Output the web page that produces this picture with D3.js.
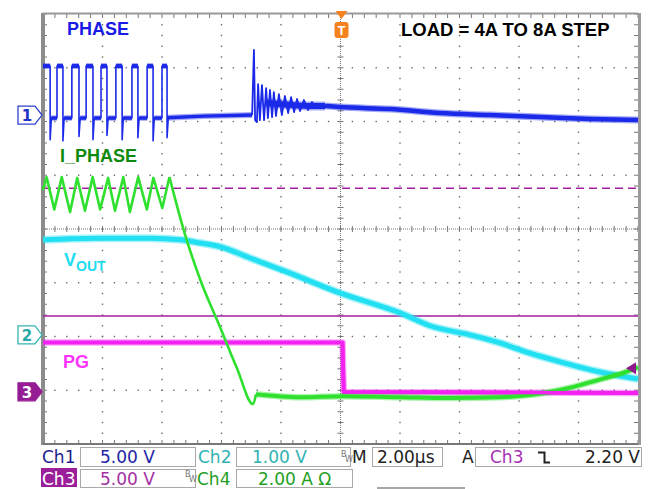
<!DOCTYPE html>
<html>
<head>
<meta charset="utf-8">
<script src="https://cdn.jsdelivr.net/npm/d3@7"></script>
<style>
  html, body { margin: 0; padding: 0; background: #fff; }
  svg { display: block; }
  .lbl { font-family: "Liberation Sans", Arial, sans-serif; font-weight: bold; }
  .ro { font-family: "DejaVu Sans", Verdana, sans-serif; font-size: 17px; }
</style>
</head>
<body>
<svg id="scope" width="651" height="489"></svg>
<script>
// time in µs (2 µs/div), each trace in its own unit
// Ch1 PHASE (V): switching edges [rise, fall]
const phaseEdges = [[-10.00, -9.76], [-9.53, -9.33], [-9.03, -8.79], [-8.55, -8.32], [-8.05, -7.85],
                    [-7.55, -7.34], [-7.01, -6.81], [-6.50, -6.30], [-6.00, -5.83]];
const phaseHigh = 4.56, phaseLow = -0.28;
const phaseSpike = [-2.3, -2.4, -2.0, -2.3, -1.9, -2.3, -2.1, -2.4, -2.1];
const phaseIdle = [[-5.83, -0.25], [-4.6, -0.1], [-2.97, 0]];
const phaseRing = [[-2.97, 0], [-2.91, 6.05], [-2.87, -0.47], [-2.81, -0.65], [-2.77, 2.88], [-2.71, -0.47],
                   [-2.64, 2.79], [-2.57, -0.47], [-2.50, 2.51], [-2.44, -0.28], [-2.37, 2.33], [-2.30, -0.19],
                   [-2.24, 2.14], [-2.17, -0.09], [-2.07, 1.95], [-1.97, 0], [-1.87, 1.77], [-1.76, 0.19],
                   [-1.66, 1.67], [-1.56, 0.28], [-1.46, 1.49], [-1.36, 0.37], [-1.23, 1.40], [-1.09, 0.47],
                   [-0.96, 1.21], [-0.76, 0.65], [-0.52, 1.02]];
const phaseRingMid = [[-2.5, 1.15], [-2.0, 1.0], [-1.5, 0.9], [-1.0, 0.85], [-0.52, 0.85]];
const phaseTail = [[-0.52, 0.85], [-0.02, 0.74], [1.66, 0.56], [3.34, 0.19], [5.03, 0], [6.71, -0.19],
                   [8.39, -0.37], [10, -0.47]];

// Ch4 I_PHASE (A)
const iRipple = [[-10, 7.67], [-9.88, 8.15], [-9.62, 6.95], [-9.37, 8.15], [-9.09, 6.85], [-8.85, 8.12],
                 [-8.59, 6.90], [-8.33, 8.15], [-8.08, 6.95], [-7.81, 8.12], [-7.58, 6.90], [-7.30, 8.15],
                 [-7.08, 6.85], [-6.80, 8.15], [-6.51, 6.95], [-6.29, 8.12], [-5.99, 7.00], [-5.75, 8.15]];
const iRamp = [[-5.75, 8.15], [-5.23, 6.03], [-4.72, 4.35], [-4.05, 2.57], [-3.48, 1.04], [-2.94, -0.30], [-2.84, 0.07]];
const iFlat = [[-2.84, 0.07], [-1.36, -0.04], [0.08, 0], [2.0, -0.04], [3.68, -0.07], [5.36, -0.04],
               [6.37, 0.04], [7.21, 0.19], [8.05, 0.41], [8.89, 0.67], [9.56, 0.89], [10, 1.08]];

// Ch2 VOUT (V)
const vout = [[-10, 1.77], [-9.09, 1.79], [-8.08, 1.80], [-6.40, 1.80], [-5.39, 1.77], [-4.72, 1.71],
              [-4.05, 1.64], [-3.04, 1.43], [-1.70, 1.15], [-0.02, 0.78], [2.0, 0.41], [3.01, 0.17],
              [4.35, 0], [5.36, -0.15], [6.37, -0.34], [7.38, -0.50], [8.72, -0.69], [10, -0.82]];

// Ch3 PG (V)
const pg = [[-10, 4.6], [0.07, 4.6], [0.09, 2.0], [0.11, -0.02], [10, -0.1]];

// scope settings
const ch1 = { offset: 2.12, perDiv: 5 };
const ch2 = { offset: -1.97, perDiv: 1 };
const ch3 = { offset: -3.03, perDiv: 5 };
const ch4 = { offset: -3.11, perDiv: 2 };
const triggerLevel = 2.20;        // Ch3, falling
const cursorDiv = [0.76, -1.62];  // dashed, solid

const svg = d3.select("#scope");
const x = d3.scaleLinear().domain([-10, 10]).range([43, 638]);
const gy = d3.scaleLinear().domain([-4, 4]).range([444, 14]);
const chanY = ch => v => gy(ch.offset + v / ch.perDiv);

// ---------- graticule ----------
const minorX = d3.range(0, 51).map(i => -10 + i * 0.4);
const minorY = d3.range(0, 41).map(i => -4 + i * 0.2);
const grid = svg.append("g");

[-8, -6, -4, -2, 2, 4, 6, 8].forEach(t => {
  grid.append("g").selectAll("rect").data(minorY.slice(1, -1)).join("rect")
    .attr("x", x(t) - 0.7).attr("y", d => gy(d) - 0.7)
    .attr("width", 1.4).attr("height", 1.4).attr("fill", "#6a6a6a");
});
[-3, -2, -1, 1, 2, 3].forEach(v => {
  grid.append("g").selectAll("rect").data(minorX.slice(1, -1)).join("rect")
    .attr("x", d => x(d) - 0.7).attr("y", gy(v) - 0.7)
    .attr("width", 1.4).attr("height", 1.4).attr("fill", "#6a6a6a");
});

// centre axes
grid.append("line").attr("x1", x(0)).attr("x2", x(0)).attr("y1", gy(-4)).attr("y2", gy(4))
  .attr("stroke", "#777").attr("stroke-dasharray", "1,1");
grid.append("line").attr("x1", x(-10)).attr("x2", x(10)).attr("y1", gy(0)).attr("y2", gy(0))
  .attr("stroke", "#777").attr("stroke-dasharray", "1,1");
grid.append("g").selectAll("line").data(minorY).join("line")
  .attr("x1", x(0) - 3).attr("x2", x(0) + 3).attr("y1", d => gy(d)).attr("y2", d => gy(d))
  .attr("stroke", "#777");
grid.append("g").selectAll("line").data(minorX).join("line")
  .attr("y1", gy(0) - 3).attr("y2", gy(0) + 3).attr("x1", d => x(d)).attr("x2", d => x(d))
  .attr("stroke", "#777");

// edge ticks
grid.append("g").selectAll("line").data(minorY).join("line")
  .attr("x1", x(-10)).attr("x2", x(-10) + 4).attr("y1", d => gy(d)).attr("y2", d => gy(d)).attr("stroke", "#777");
grid.append("g").selectAll("line").data(minorY).join("line")
  .attr("x1", x(10) - 4).attr("x2", x(10)).attr("y1", d => gy(d)).attr("y2", d => gy(d)).attr("stroke", "#777");
grid.append("g").selectAll("line").data(minorX).join("line")
  .attr("y1", gy(4)).attr("y2", gy(4) + 4).attr("x1", d => x(d)).attr("x2", d => x(d)).attr("stroke", "#777");
grid.append("g").selectAll("line").data(minorX).join("line")
  .attr("y1", gy(-4) - 4).attr("y2", gy(-4)).attr("x1", d => x(d)).attr("x2", d => x(d)).attr("stroke", "#777");

// frame
grid.append("rect").attr("x", x(-10) - 2).attr("y", gy(4) - 1).attr("width", 4).attr("height", gy(-4) - gy(4) + 2).attr("fill", "#8c8c8c");
grid.append("rect").attr("x", x(10)).attr("y", gy(4) - 1).attr("width", 3).attr("height", gy(-4) - gy(4) + 2).attr("fill", "#9a9a9a");
grid.append("line").attr("x1", x(-10)).attr("x2", x(10)).attr("y1", gy(4) - 0.5).attr("y2", gy(4) - 0.5).attr("stroke", "#999").attr("stroke-width", 2);
grid.append("line").attr("x1", x(-10)).attr("x2", x(10)).attr("y1", gy(-4)).attr("y2", gy(-4)).attr("stroke", "#777").attr("stroke-width", 2);

// cursors
svg.append("line").attr("x1", x(-10)).attr("x2", x(10)).attr("y1", gy(cursorDiv[0])).attr("y2", gy(cursorDiv[0]))
  .attr("stroke", "#a21ca2").attr("stroke-width", 1.5).attr("stroke-dasharray", "8,5");
svg.append("line").attr("x1", x(-10)).attr("x2", x(10)).attr("y1", gy(cursorDiv[1])).attr("y2", gy(cursorDiv[1]))
  .attr("stroke", "#a21ca2").attr("stroke-width", 1.5);

// ---------- traces ----------
function trace(data, ch, color, width, halo, curve) {
  const line = d3.line().x(d => x(d[0])).y(d => chanY(ch)(d[1])).curve(curve || d3.curveLinear);
  if (halo) {
    svg.append("path").datum(data).attr("d", line).attr("fill", "none")
      .attr("stroke", color).attr("stroke-width", halo).attr("stroke-opacity", 0.4)
      .attr("stroke-linejoin", "round");
  }
  svg.append("path").datum(data).attr("d", line).attr("fill", "none")
    .attr("stroke", color).attr("stroke-width", width).attr("stroke-linejoin", "round");
}

// Ch1 PHASE
const c1 = "#1b2ae8";
const sw = [];
phaseEdges.forEach((e, i) => {
  if (i > 0) sw.push([e[0], phaseLow]);
  sw.push([e[0], phaseHigh], [e[1], phaseHigh], [e[1], phaseSpike[i]], [e[1] + 0.04, phaseLow]);
  const next = phaseEdges[i + 1];
  sw.push([next ? next[0] : e[1] + 0.1, phaseLow]);
});
trace(sw, ch1, c1, 1.6);
phaseEdges.forEach((e, i) => {
  trace([[e[0], phaseHigh], [e[1], phaseHigh]], ch1, c1, 4, 6);
  const next = phaseEdges[i + 1];
  if (next) trace([[e[1] + 0.04, phaseLow], [next[0], phaseLow]], ch1, c1, 3.5, 5.5);
});
trace(phaseIdle, ch1, c1, 3.5, 6);
trace(phaseRingMid, ch1, c1, 6, 9, d3.curveMonotoneX);
trace(phaseRing, ch1, c1, 1.8);
trace(phaseTail, ch1, c1, 4.5, 7, d3.curveMonotoneX);

// Ch2 VOUT
trace(vout, ch2, "#22e0f2", 5, 8, d3.curveMonotoneX);

// Ch3 PG
trace(pg, ch3, "#f222f0", 4, 6.5);

// Ch4 I_PHASE
const c4 = "#2fe02f";
trace(iRipple, ch4, c4, 2.6);
trace(iRamp, ch4, c4, 2.6, 0, d3.curveMonotoneX);
trace(iFlat, ch4, c4, 4, 6.5, d3.curveMonotoneX);

// PG drawn again where it sits over the current trace on the right
trace(pg.slice(2), ch3, "#f222f0", 3.5);

// ---------- markers ----------
function chMarker(ch, label, stroke, fill, textColor) {
  const yc = gy(ch.offset);
  svg.append("path")
    .attr("d", `M18,${yc - 9}H35L42,${yc}L35,${yc + 9}H18Z`)
    .attr("fill", fill).attr("stroke", stroke).attr("stroke-width", 1.3);
  svg.append("text").attr("x", 27).attr("y", yc + 6).attr("text-anchor", "middle")
    .attr("font-family", "DejaVu Sans, sans-serif").attr("font-size", 15).attr("font-weight", "bold")
    .attr("fill", textColor).text(label);
}
chMarker(ch1, "1", "#3040d0", "#fff", "#2433c4");
chMarker(ch2, "2", "#38b4b4", "#fff", "#2aa8a8");
chMarker(ch3, "3", "#961c96", "#961c96", "#fff");

// trigger level arrow (Ch3)
const ty = chanY(ch3)(triggerLevel);
svg.append("path").attr("d", `M626,${ty}L636,${ty - 6}L636,${ty + 6}Z`).attr("fill", "#8e1a8e");

// trigger position
const tx = x(0) + 1;
svg.append("path").attr("d", `M${tx - 6},11H${tx + 6}L${tx},19Z`).attr("fill", "#f5821f");
svg.append("rect").attr("x", tx - 7).attr("y", 22).attr("width", 14).attr("height", 16).attr("rx", 3).attr("fill", "#f5821f");
svg.append("text").attr("x", tx).attr("y", 35).attr("text-anchor", "middle").attr("class", "lbl")
  .attr("font-size", 13).attr("fill", "#fff").text("T");

// ---------- annotations ----------
svg.append("text").attr("class", "lbl").attr("x", 67).attr("y", 35).attr("font-size", 18).attr("fill", "#1a1ae6").text("PHASE");
svg.append("text").attr("class", "lbl").attr("x", 60).attr("y", 162).attr("font-size", 18).attr("fill", "#0e8a0e").text("I_PHASE");
svg.append("text").attr("class", "lbl").attr("x", 401).attr("y", 36).attr("font-size", 18.5).attr("fill", "#000").text("LOAD = 4A TO 8A STEP");
const vt = svg.append("text").attr("class", "lbl").attr("x", 64).attr("y", 266).attr("font-size", 18).attr("fill", "#22dcee");
vt.append("tspan").text("V");
vt.append("tspan").attr("dy", 5).attr("font-size", 14).text("OUT");
svg.append("text").attr("class", "lbl").attr("x", 63).attr("y", 368).attr("font-size", 18).attr("fill", "#ff33ff").text("PG");

// ---------- readout panel ----------
const panel = svg.append("g").attr("class", "ro");
function box(x0, y0, w, h) {
  panel.append("rect").attr("x", x0 + 0.5).attr("y", y0 + 0.5).attr("width", w).attr("height", h)
    .attr("fill", "#fff").attr("stroke", "#a8a8a8");
}
function txt(x0, y0, s, color, anchor) {
  return panel.append("text").attr("x", x0).attr("y", y0).attr("fill", color)
    .attr("text-anchor", anchor || "start").text(s);
}
function bw(x0, y0) {
  panel.append("text").attr("x", x0).attr("y", y0).attr("font-size", 8).attr("fill", "#777").text("B");
  panel.append("text").attr("x", x0 + 4).attr("y", y0 + 5).attr("font-size", 8).attr("fill", "#777").text("W");
}
const r1 = 463, r2 = 485;
box(80, 447, 115, 19); box(236, 447, 114, 19); box(372, 447, 70, 19); box(475, 447, 166, 19);
box(80, 469, 115, 18); box(236, 469, 116, 18);

txt(42, r1, "Ch1", "#1c1c8e");
txt(100, r1, "5.00 V", "#2323a6");
txt(198, r1, "Ch2", "#2fb3b3");
txt(252, r1, "1.00 V", "#2fb3b3");
bw(341, 457);
txt(352, r1, "M", "#222");
txt(377, r1, "2.00µs", "#222");
txt(462, r1, "A", "#222");
txt(490, r1, "Ch3", "#a431b4");
panel.append("path").attr("d", "M538,452.5H544.5V462.5H550").attr("fill", "none").attr("stroke", "#222").attr("stroke-width", 2);
txt(640, r1, "2.20 V", "#222", "end");

panel.append("rect").attr("x", 41).attr("y", 468).attr("width", 36).attr("height", 19).attr("fill", "#9b1f9b");
txt(42, r2, "Ch3", "#fff");
txt(100, r2, "5.00 V", "#a330a3");
bw(185, 477);
txt(197, r2, "Ch4", "#1f9e1f");
txt(258, r2, "2.00 A Ω", "#22a022");

svg.append("line").attr("x1", 377).attr("x2", 465).attr("y1", 488).attr("y2", 488).attr("stroke", "#888").attr("stroke-width", 1.5);
</script>
</body>
</html>
